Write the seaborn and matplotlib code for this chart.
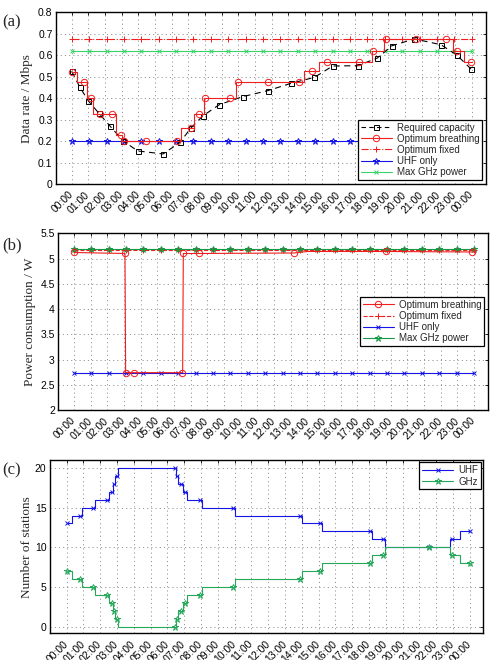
import numpy as np
import pandas as pd
import seaborn as sns
import matplotlib.pyplot as plt
from matplotlib.lines import Line2D

# ---- data (time in hours) ----
hour_ticks = list(range(25))
hour_labels = ['00:00', '01:00', '02:00', '03:00', '04:00', '05:00', '06:00', '07:00',
               '08:00', '09:00', '10:00', '11:00', '12:00', '13:00', '14:00', '15:00',
               '16:00', '17:00', '18:00', '19:00', '20:00', '21:00', '22:00', '23:00', '00:00']

# markers of the flat reference curves
flat_t = [0, 1.04, 2.09, 3.13, 4.17, 5.22, 6.26, 7.3, 8.35, 9.39, 10.43, 11.48,
          12.52, 13.57, 14.61, 15.65, 16.7, 17.74, 18.78, 19.83, 20.87, 21.91, 22.96, 24.0]

# (a) data rate
req_t = [0.0, 0.5, 1.0, 1.64, 2.3, 3.1, 3.96, 5.48, 6.5, 7.14, 7.86, 8.86, 10.26, 11.76,
         13.16, 14.56, 15.66, 17.16, 18.33, 19.2, 20.56, 22.15, 23.11, 23.95]
req_rate = [0.525, 0.45, 0.387, 0.329, 0.27, 0.2, 0.154, 0.14, 0.194, 0.26, 0.317, 0.37,
            0.407, 0.435, 0.469, 0.497, 0.55, 0.551, 0.587, 0.644, 0.676, 0.649, 0.6, 0.536]

breath_edges = [0, 0.34, 0.9, 1.3, 2.64, 3.04, 6.58, 7.34, 7.94, 9.84, 13.94, 14.86,
                18.03, 18.75, 22.9, 23.53, 24]
breath_levels = [0.523, 0.474, 0.402, 0.325, 0.228, 0.2, 0.262, 0.325, 0.402, 0.474,
                 0.525, 0.57, 0.62, 0.677, 0.62, 0.57]
breath_mark_t = [0.04, 0.74, 1.14, 1.7, 2.44, 2.94, 3.14, 4.43, 6.29, 7.18, 7.64, 8.0,
                 9.5, 9.96, 11.78, 13.66, 14.44, 15.34, 17.26, 18.1, 18.86, 20.66,
                 22.45, 23.13, 23.93]
breath_mark_rate = [0.523, 0.474, 0.402, 0.325, 0.325, 0.228, 0.2, 0.2, 0.2, 0.262, 0.325,
                    0.402, 0.402, 0.474, 0.474, 0.474, 0.525, 0.57, 0.57, 0.62, 0.677,
                    0.677, 0.677, 0.62, 0.57]

fixed_rate = [0.677] * len(flat_t)
uhf_rate = [0.2] * len(flat_t)
maxghz_rate = [0.62] * len(flat_t)

# (b) power consumption
breath_pw_t = [0, 3.06, 3.1, 6.52, 6.56, 7.5, 13.2, 14.0, 18.7, 24]
breath_pw = [5.12, 5.10, 2.74, 2.74, 5.10, 5.10, 5.11, 5.14, 5.14, 5.13]
breath_pw_mark_t = [0.0, 3.06, 3.12, 3.62, 6.5, 6.56, 7.5, 13.2, 18.7, 23.9]
breath_pw_mark = [5.12, 5.10, 2.74, 2.74, 2.74, 5.10, 5.10, 5.11, 5.14, 5.13]
fixed_pw = [5.16] * len(flat_t)
uhf_pw = [2.74] * len(flat_t)
maxghz_pw = [5.18] * len(flat_t)

# (c) number of stations
stn_edges = [0, 0.3, 0.89, 1.69, 2.54, 2.74, 2.88, 3.06, 6.51, 6.65, 6.91, 7.15, 8.05,
             10.03, 14.0, 15.2, 18.17, 18.93, 22.84, 23.44, 24]
uhf_stn = [13, 14, 15, 16, 17, 18, 19, 20, 19, 18, 17, 16, 15, 14, 13, 12, 11, 10, 11, 12]
ghz_stn = [7, 6, 5, 4, 3, 2, 1, 0, 1, 2, 3, 4, 5, 6, 7, 8, 9, 10, 9, 8]
stn_mark_t = [0.0, 0.79, 1.59, 2.38, 2.68, 2.82, 2.98, 6.45, 6.56, 6.79, 7.05, 7.94, 9.93,
              13.9, 15.1, 18.07, 18.83, 21.55, 22.94, 23.99]

rate_ticks = [0, 0.1, 0.2, 0.3, 0.4, 0.5, 0.6, 0.7, 0.8]
rate_labels = ['0', '0.1', '0.2', '0.3', '0.4', '0.5', '0.6', '0.7', '0.8']
pw_ticks = [2, 2.5, 3, 3.5, 4, 4.5, 5, 5.5]
pw_labels = ['2', '2.5', '3', '3.5', '4', '4.5', '5', '5.5']
stn_ticks = [0, 5, 10, 15, 20]
stn_labels = ['0', '5', '10', '15', '20']

RED = '#f01e1e'
BLUE = '#1414e6'
BLACK = 'black'
GREEN_A = '#3ad36a'
GREEN_B = '#139a45'
GREEN_C = '#25a85a'

sns.set_style('white')
plt.rcParams['font.family'] = ['Liberation Sans', 'DejaVu Sans']
SERIF = ['Liberation Serif', 'DejaVu Serif']


def line(ax, x, y, color, ls='-', marker=None, ms=4, mew=0.7, mfc='none', lw=0.8, **kw):
    sns.lineplot(x=x, y=y, ax=ax, color=color, linestyle=ls, linewidth=lw,
                 marker=marker, markersize=ms, markeredgewidth=mew,
                 markeredgecolor=color, markerfacecolor=mfc,
                 estimator=None, sort=False, **kw)


def stairs(ax, edges, levels, color, lw=0.8):
    y = list(levels) + [levels[-1]]
    sns.lineplot(x=edges, y=y, ax=ax, color=color, linewidth=lw, drawstyle='steps-post',
                 estimator=None, sort=False)


def proxy(color, ls, marker, ms=4):
    return Line2D([], [], color=color, linestyle=ls, linewidth=0.8, marker=marker,
                  markersize=ms, markerfacecolor='none', markeredgecolor=color,
                  markeredgewidth=0.7)


def style_axes(ax, xlim, ylim, yticks, ylabels, ylabel, lab_x):
    ax.set_xlim(*xlim)
    ax.set_ylim(*ylim)
    ax.set_xticks(hour_ticks)
    ax.set_xticklabels(hour_labels, rotation=45, ha='right', va='center',
                       rotation_mode='anchor')
    ax.set_yticks(yticks)
    ax.set_yticklabels(ylabels)
    ax.tick_params(direction='in', top=True, right=True, length=2.5, width=0.6,
                   labelsize=7.5, colors='black')
    ax.tick_params(axis='y', pad=2.5)
    ax.tick_params(axis='x', pad=6.5)
    ax.grid(True, linestyle=(0, (1.5, 4)), color='#7a7a7a', linewidth=0.55)
    ax.set_axisbelow(True)
    for s in ax.spines.values():
        s.set_color('black')
        s.set_linewidth(1.0)
    ax.set_xlabel('')
    ax.set_ylabel(ylabel, fontsize=9.5, family=SERIF)
    ax.yaxis.set_label_coords(lab_x, 0.5)


def legend(ax, handles, labels, loc, pad=0.4):
    leg = ax.legend(handles, labels, loc=loc, fontsize=7, frameon=True, fancybox=False,
                    edgecolor='black', framealpha=1, handlelength=3.2, labelspacing=0.12,
                    borderpad=0.3, handletextpad=0.5, borderaxespad=pad)
    leg.get_frame().set_linewidth(0.9)


fig = plt.figure(figsize=(4.94, 6.6), dpi=100)
W, H = 494.0, 660.0
ax_a = fig.add_axes([56 / W, 1 - 184 / H, 430 / W, 171.7 / H])
ax_b = fig.add_axes([58.3 / W, 1 - 410 / H, 429.7 / W, 176.7 / H])
ax_c = fig.add_axes([50 / W, 1 - 633.3 / H, 433.3 / W, 173.3 / H])

# ---- (a) ----
line(ax_a, flat_t, maxghz_rate, GREEN_A, marker='x', ms=3.5)
line(ax_a, flat_t, fixed_rate, RED, ls='-.', marker='+', ms=4.5)
line(ax_a, flat_t, uhf_rate, BLUE, marker='*', ms=4.5)
line(ax_a, req_t, req_rate, BLACK, ls=(0, (5.5, 4)), marker='s', ms=3.6)
stairs(ax_a, breath_edges, breath_levels, RED)
line(ax_a, breath_mark_t, breath_mark_rate, RED, ls='', marker='o', ms=4.6)
style_axes(ax_a, (-0.94, 24.85), (0, 0.8), rate_ticks, rate_labels,
           'Data rate / Mbps', -0.054)
legend(ax_a, [proxy(BLACK, (0, (4, 3)), 's', 3.6), proxy(RED, '-', 'o', 4.6),
              proxy(RED, '-.', '+', 4.5), proxy(BLUE, '-', '*', 4.5),
              proxy(GREEN_A, '-', 'x', 3.5)],
       ['Required capacity', 'Optimum breathing', 'Optimum fixed', 'UHF only',
        'Max GHz power'], 'lower right')

# ---- (b) ----
line(ax_b, flat_t, uhf_pw, BLUE, marker='x', ms=3.5)
line(ax_b, flat_t, fixed_pw, RED, ls='--', marker='+', ms=4.5)
line(ax_b, flat_t, maxghz_pw, GREEN_B, marker='*', ms=4.5)
line(ax_b, breath_pw_t, breath_pw, RED)
line(ax_b, breath_pw_mark_t, breath_pw_mark, RED, ls='', marker='o', ms=4.6)
style_axes(ax_b, (-0.94, 24.84), (2, 5.5), pw_ticks, pw_labels,
           'Power consumption / W', -0.052)
legend(ax_b, [proxy(RED, '-', 'o', 4.6), proxy(RED, '--', '+', 4.5),
              proxy(BLUE, '-', 'x', 3.5), proxy(GREEN_B, '-', '*', 4.5)],
       ['Optimum breathing', 'Optimum fixed', 'UHF only', 'Max GHz power'],
       'center right')

# ---- (c) ----
stairs(ax_c, stn_edges, uhf_stn, BLUE)
line(ax_c, stn_mark_t, uhf_stn, BLUE, ls='', marker='x', ms=3.5)
stairs(ax_c, stn_edges, ghz_stn, GREEN_C)
line(ax_c, stn_mark_t, ghz_stn, GREEN_C, ls='', marker='*', ms=4.5)
style_axes(ax_c, (-0.99, 24.8), (-0.85, 21), stn_ticks, stn_labels,
           'Number of stations', -0.0385)
legend(ax_c, [proxy(BLUE, '-', 'x', 3.5), proxy(GREEN_C, '-', '*', 4.5)], ['UHF', 'GHz'],
       'upper right', pad=0.25)

for lab, y in [('(a)', 22.7), ('(b)', 245), ('(c)', 470)]:
    fig.text(2 / W, 1 - y / H, lab, fontsize=12, family=SERIF, va='center', ha='left')

fig.savefig('out.png', dpi=100)
